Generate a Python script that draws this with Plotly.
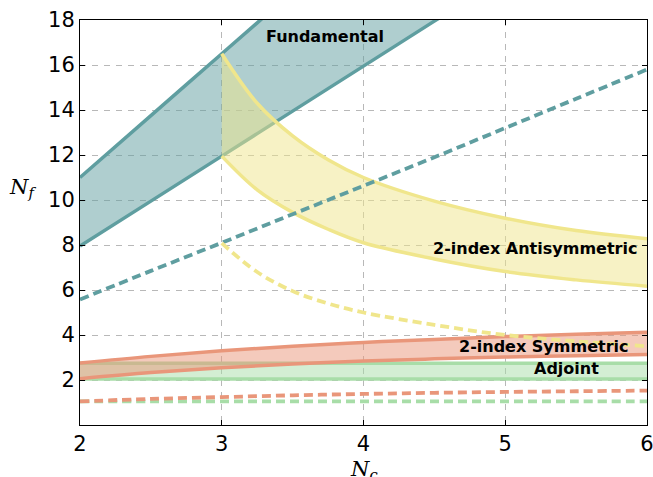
import plotly.graph_objects as go

# ---------------- data ----------------
NC = [2, 2.5, 3, 3.5, 4, 4.5, 5, 5.5, 6]
NC_AS = [3, 3.25, 3.5, 3.75, 4, 4.5, 5, 5.5, 6]

FUND_UP = [11.0, 13.75, 16.5, 19.25, 22.0, 24.75, 27.5, 30.25, 33.0]
FUND_LO = [7.95, 9.95, 11.95, 13.95, 15.95, 17.95, 19.95, 21.95, 23.95]
FUND_DASH = [5.58, 6.85, 8.1, 9.37, 10.63, 11.9, 13.2, 14.5, 15.8]

AS_UP = [16.5, 14.3, 12.85, 11.79, 11.0, 9.95, 9.19, 8.64, 8.28]
AS_LO = [11.95, 10.45, 9.45, 8.7, 8.1, 7.38, 6.82, 6.45, 6.17]
AS_DASH = [8.08, 6.8, 5.95, 5.4, 5.0, 4.45, 4.0, 3.72, 3.5]

SYM_UP = [2.75, 3.05, 3.3, 3.5, 3.67, 3.8, 3.93, 4.03, 4.12]
SYM_LO = [2.06, 2.33, 2.55, 2.71, 2.84, 2.94, 3.02, 3.08, 3.13]
SYM_DASH = [1.05, 1.16, 1.24, 1.32, 1.38, 1.43, 1.47, 1.5, 1.53]

ADJ_UP = [2.75, 2.75, 2.75, 2.75, 2.75, 2.75, 2.75, 2.75, 2.75]
ADJ_LO = [2.05, 2.05, 2.05, 2.05, 2.05, 2.05, 2.05, 2.05, 2.05]
ADJ_DASH = [1.05, 1.05, 1.05, 1.05, 1.05, 1.05, 1.05, 1.05, 1.05]

X_TICKS = [2, 3, 4, 5, 6]
Y_TICKS = [2, 4, 6, 8, 10, 12, 14, 16, 18]

LABELS = ["Fundamental", "2-index Antisymmetric", "2-index Symmetric", "Adjoint"]

# ---------------- styles ----------------
TEAL = (95, 158, 160)
KHAKI = (240, 230, 140)
SALMON = (233, 150, 122)
GREEN = (168, 221, 168)


def rgba(c, a):
    return f"rgba({c[0]},{c[1]},{c[2]},{a})"


fig = go.Figure()


def band(x, lo, up, col):
    fig.add_trace(go.Scatter(x=x, y=lo, mode="lines", line=dict(color=rgba(col, 1), width=3.5, shape="spline"),
                             showlegend=False, hoverinfo="skip"))
    fig.add_trace(go.Scatter(x=x, y=up, mode="lines", line=dict(color=rgba(col, 1), width=3.5, shape="spline"),
                             fill="tonexty", fillcolor=rgba(col, 0.5), showlegend=False, hoverinfo="skip"))


def dashed(x, y, col):
    fig.add_trace(go.Scatter(x=x, y=y, mode="lines",
                             line=dict(color=rgba(col, 1), width=3.8, dash="9px,5px", shape="spline"),
                             showlegend=False, hoverinfo="skip"))


band(NC, FUND_LO, FUND_UP, TEAL)
band(NC_AS, AS_LO, AS_UP, KHAKI)
band(NC, ADJ_LO, ADJ_UP, GREEN)
band(NC, SYM_LO, SYM_UP, SALMON)

dashed(NC, FUND_DASH, TEAL)
dashed(NC_AS, AS_DASH, KHAKI)
dashed(NC, ADJ_DASH, GREEN)
dashed(NC, SYM_DASH, SALMON)

lab_font = dict(family="DejaVu Sans", size=16, color="black")
fig.add_annotation(x=3.73, y=17.27, text=f"<b>{LABELS[0]}</b>", showarrow=False, font=lab_font,
                   xanchor="center", yanchor="middle")
fig.add_annotation(x=5.94, y=7.85, text=f"<b>{LABELS[1]}</b>", showarrow=False, font=lab_font,
                   xanchor="right", yanchor="middle")
fig.add_annotation(x=5.89, y=3.47, text=f"<b>{LABELS[2]}</b>", showarrow=False, font=lab_font,
                   xanchor="right", yanchor="middle")
fig.add_annotation(x=5.43, y=2.5, text=f"<b>{LABELS[3]}</b>", showarrow=False, font=lab_font,
                   xanchor="center", yanchor="middle")

# axis titles
fig.add_annotation(x=4, y=-0.075, xref="x", yref="paper", text="<i>N</i><sub><i>c</i></sub>",
                   showarrow=False, font=dict(family="DejaVu Serif", size=21, color="black"),
                   xanchor="center", yanchor="top")
fig.add_annotation(x=-0.102, y=0.586, xref="paper", yref="paper", text="<i>N</i><sub><i>f</i></sub>",
                   showarrow=False, font=dict(family="DejaVu Serif", size=21, color="black"),
                   xanchor="center", yanchor="middle")

axis_common = dict(showline=True, linecolor="black", linewidth=1, mirror="ticks",
                   ticks="inside", ticklen=5, tickcolor="black",
                   showgrid=True, gridcolor="rgba(160,160,160,0.75)", griddash="6px,6px", gridwidth=1,
                   zeroline=False, tickfont=dict(family="DejaVu Sans", size=21, color="black"),
                   ticklabeloverflow="allow", automargin=False)

fig.update_xaxes(range=[2, 6], tickvals=X_TICKS, ticktext=[str(v) for v in X_TICKS], **axis_common)
fig.update_yaxes(range=[0, 18], tickvals=Y_TICKS, ticktext=[str(v) for v in Y_TICKS], **axis_common)

fig.update_layout(width=653, height=477, margin=dict(l=80, r=6, t=20, b=52),
                  plot_bgcolor="white", paper_bgcolor="white", showlegend=False)

fig.write_html("out.html")
